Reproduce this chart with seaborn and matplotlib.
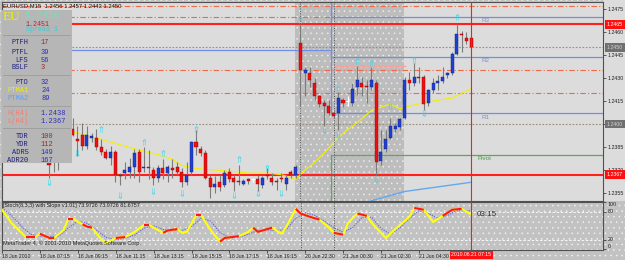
import numpy as np
import matplotlib
matplotlib.use("Agg")
import matplotlib.pyplot as plt
import matplotlib.transforms as mtransforms
from matplotlib.patches import Rectangle
import seaborn as sns

plt.rcParams['font.family'] = ['Liberation Sans', 'DejaVu Sans']
plt.rcParams['hatch.linewidth'] = 0.35

# ===============================
# Data (EURUSD M15)
# ===============================
bar_open = [1.2380, 1.2377, 1.2383, 1.2378, 1.2390, 1.2397, 1.2390, 1.2393, 1.2386, 1.2391,
            1.2391, 1.2385, 1.2382, 1.2378, 1.2382, 1.2367, 1.2368, 1.2369, 1.2372, 1.2382,
            1.2371, 1.2372, 1.2370, 1.2365, 1.2371, 1.2368, 1.2371, 1.2372, 1.2369, 1.2362,
            1.2369, 1.2388, 1.2384, 1.2381, 1.2365, 1.2359, 1.2362, 1.2360, 1.2369, 1.2365,
            1.2363, 1.2361, 1.2364, 1.2364, 1.2364, 1.2360, 1.2367, 1.2365, 1.2363, 1.2365,
            1.2361, 1.2369, 1.2367, 1.2453, 1.2433, 1.2433, 1.2427, 1.2418, 1.2414, 1.2412,
            1.2407, 1.2407, 1.2416, 1.2415, 1.2414, 1.2424, 1.2427, 1.2425, 1.2424, 1.2427,
            1.2376, 1.2384, 1.2391, 1.2397, 1.2398, 1.2404, 1.2429, 1.2427, 1.2431, 1.2431,
            1.2414, 1.2422, 1.2427, 1.2428, 1.2432, 1.2433, 1.2446, 1.2459, 1.2456, 1.2456]
bar_high = [1.2384, 1.2386, 1.2390, 1.2393, 1.2399, 1.2404, 1.2399, 1.2401, 1.2399, 1.2394,
            1.2397, 1.2390, 1.2384, 1.2386, 1.2383, 1.2368, 1.2375, 1.2378, 1.2384, 1.2384,
            1.2385, 1.2383, 1.2372, 1.2373, 1.2377, 1.2373, 1.2377, 1.2375, 1.2371, 1.2375,
            1.2389, 1.2396, 1.2386, 1.2383, 1.2367, 1.2366, 1.2367, 1.2370, 1.2371, 1.2367,
            1.2373, 1.2364, 1.2365, 1.2365, 1.2367, 1.2366, 1.2371, 1.2368, 1.2365, 1.2368,
            1.2367, 1.2370, 1.2373, 1.2465, 1.2437, 1.2437, 1.2430, 1.2419, 1.2416, 1.2416,
            1.2409, 1.2421, 1.2417, 1.2418, 1.2427, 1.2438, 1.2431, 1.2429, 1.2437, 1.2429,
            1.2396, 1.2396, 1.2404, 1.2401, 1.2404, 1.2431, 1.2434, 1.2440, 1.2437, 1.2432,
            1.2423, 1.2430, 1.2432, 1.2437, 1.2434, 1.2447, 1.2465, 1.2461, 1.2460, 1.2457]
bar_low = [1.2365, 1.2369, 1.2370, 1.2375, 1.2383, 1.2392, 1.2379, 1.2383, 1.2384, 1.2388,
           1.2383, 1.2380, 1.2377, 1.2373, 1.2362, 1.2360, 1.2364, 1.2365, 1.2365, 1.2362,
           1.2369, 1.2364, 1.2360, 1.2362, 1.2364, 1.2362, 1.2365, 1.2367, 1.2359, 1.2360,
           1.2367, 1.2380, 1.2379, 1.2364, 1.2352, 1.2355, 1.2356, 1.2359, 1.2362, 1.2356,
           1.2360, 1.2360, 1.2361, 1.2362, 1.2356, 1.2358, 1.2364, 1.2360, 1.2357, 1.2362,
           1.2357, 1.2365, 1.2365, 1.2412, 1.2418, 1.2424, 1.2416, 1.2411, 1.2399, 1.2406,
           1.2404, 1.2396, 1.2411, 1.2412, 1.2412, 1.2419, 1.2418, 1.2414, 1.2422, 1.2367,
           1.2373, 1.2382, 1.2390, 1.2395, 1.2396, 1.2403, 1.2422, 1.2425, 1.2427, 1.2409,
           1.2412, 1.2420, 1.2422, 1.2427, 1.2430, 1.2432, 1.2445, 1.2447, 1.2452, 1.2450]
bar_close = [1.2373, 1.2383, 1.2378, 1.2390, 1.2396, 1.2393, 1.2389, 1.2386, 1.2393, 1.2392,
             1.2385, 1.2382, 1.2378, 1.2382, 1.2367, 1.2366, 1.2370, 1.2372, 1.2381, 1.2369,
             1.2372, 1.2371, 1.2365, 1.2371, 1.2368, 1.2372, 1.2370, 1.2369, 1.2362, 1.2367,
             1.2388, 1.2385, 1.2381, 1.2365, 1.2359, 1.2361, 1.2359, 1.2368, 1.2364, 1.2362,
             1.2362, 1.2363, 1.2363, 1.2364, 1.2361, 1.2365, 1.2366, 1.2362, 1.2362, 1.2364,
             1.2365, 1.2367, 1.2372, 1.2435, 1.2435, 1.2429, 1.2418, 1.2413, 1.2412, 1.2407,
             1.2405, 1.2417, 1.2414, 1.2415, 1.2423, 1.2429, 1.2424, 1.2424, 1.2429, 1.2375,
             1.2382, 1.2390, 1.2399, 1.2399, 1.2403, 1.2429, 1.2427, 1.2431, 1.2430, 1.2413,
             1.2422, 1.2427, 1.2428, 1.2431, 1.2433, 1.2446, 1.2459, 1.2458, 1.2454, 1.2450]

# moving averages (PTMA1 yellow, PTMA2 light blue)
ma1_idx = [5, 11, 19, 23, 26, 28, 31, 35, 39, 42, 46, 49, 52, 54, 56, 58, 60, 62, 65, 68, 72, 74, 79, 85, 89]
ma1_val = [1.2395, 1.2390, 1.2383, 1.2380, 1.2377, 1.2373, 1.2371, 1.2370, 1.2369, 1.2368, 1.2368, 1.2367,
           1.2364, 1.2370, 1.2375, 1.2381, 1.2388, 1.2394, 1.2401, 1.2409, 1.2413, 1.2410, 1.2414,
           1.2417, 1.2423]
ma2_idx = [68, 75, 89]
ma2_val = [1.2350, 1.2356, 1.2362]

# fractal arrows
up_idx = [11, 20, 24, 31, 40, 46, 53, 61, 65, 68, 72, 77, 86]
up_price = [1.2397, 1.2388, 1.2381, 1.2397, 1.2377, 1.2371, 1.2468, 1.2423, 1.2441, 1.2440, 1.2412, 1.2442, 1.2470]
dn_idx = [0, 6, 15, 22, 28, 39, 44, 49, 58, 61, 69, 79]
dn_price = [1.2362, 1.2381, 1.2354, 1.2356, 1.2355, 1.2354, 1.2355, 1.2355, 1.2396, 1.2393, 1.2364, 1.2407]

# pivot levels: previous day -> new day (day starts after bar 59)
pivot_names = ['R3', 'R2', 'R1', 'Pivot']
pivot_prev = [1.2500, 1.2490, 1.2448, 1.2340]
pivot_new = [1.2470, 1.2444, 1.2407, 1.2380]
h4_high, h4_low = 1.2438, 1.2367
day_high = 1.2465
dashdot_levels = [1.2477, 1.2435, 1.2420]
dotted_levels = [1.2450, 1.2400]

# Stoch(8,3,3) main and signal
k_idx = [-10, -8, -5, -3, -2, 0, 1, 3, 4, 5, 7, 8, 9, 11, 12, 14, 16, 18, 20, 21, 22, 24, 25, 27, 28, 29,
         31, 32, 34, 36, 37, 40, 42, 43, 44, 46, 47, 49, 50, 52, 53, 55, 57, 59, 60, 62, 63, 65, 67, 68,
         71, 73, 76, 77, 79, 81, 83, 85, 87, 89]
k_val = [84, 56, 26, 26, 33, 24, 24, 41, 65, 65, 53, 48, 46, 20, 13, 24, 26, 37, 52, 52, 46, 35, 40, 43, 35, 37,
         73, 73, 41, 16, 24, 28, 37, 46, 37, 43, 46, 33, 48, 86, 76, 69, 63, 46, 35, 31, 56, 76, 71, 56,
         24, 43, 69, 88, 84, 58, 71, 84, 86, 74]
red_spans = [(-5, -3), (-2, 1), (4, 5), (7, 9), (13, 16), (20, 21), (24, 27), (31, 32), (36, 40),
             (43, 47), (52, 57), (60, 62), (65, 67), (77, 79), (83, 87)]
d_idx = [-10, -8, -6, -4, -2, 0, 2, 4, 6, 8, 10, 12, 14, 16, 18, 20, 22, 24, 26, 28, 30, 32, 34, 36, 38,
         40, 42, 44, 46, 48, 50, 52, 54, 56, 58, 60, 62, 64, 66, 68, 70, 72, 74, 76, 78, 80, 82, 84, 86, 89]
d_val = [88, 72, 50, 32, 28, 27, 28, 45, 60, 55, 40, 25, 20, 24, 30, 45, 50, 42, 40, 40, 48, 66, 60, 36, 24,
         26, 32, 40, 41, 40, 42, 66, 78, 72, 60, 46, 36, 46, 68, 68, 44, 32, 46, 66, 82, 76, 66, 72, 82, 82]

time_ticks = [-10, -2, 6, 14, 22, 30, 38, 46, 54, 62, 70, 78]
time_labels = ['18 Jun 2010', '18 Jun 07:15', '18 Jun 09:15', '18 Jun 11:15', '18 Jun 13:15',
               '18 Jun 15:15', '18 Jun 17:15', '18 Jun 19:15', '20 Jun 22:30', '21 Jun 00:30',
               '21 Jun 02:30', '21 Jun 04:30']
price_ticks = [1.2355, 1.2370, 1.2385, 1.2400, 1.2415, 1.2430, 1.2445, 1.2460, 1.2475]

# ===============================
# Layout (pixel based, 625x260)
# ===============================
W, H = 625, 260
BAR0, STEP = 49, 4.742   # pixel x of bar 0 and spacing


def px_rect(x0, y0, x1, y1):
    return [x0 / W, 1 - y1 / H, (x1 - x0) / W, (y1 - y0) / H]


def px_to_idx(x):
    return (x - BAR0) / STEP


fig = plt.figure(figsize=(W / 100, H / 100), dpi=100)
fig.patch.set_facecolor('#c2c2c2')
fig.add_artist(Rectangle((0, 0), 1, 1, transform=fig.transFigure, fc='#c2c2c2', ec='#f4f4f4',
                         hatch='...', lw=0, zorder=-3))
fig.add_artist(Rectangle((603 / W, 1 - 201 / H), 22 / W, 201 / H, transform=fig.transFigure,
                         fc='#dcdcdc', ec='none', zorder=-2))

ax = fig.add_axes(px_rect(2, 2, 603, 201))
ax2 = fig.add_axes(px_rect(2, 202, 603, 249.5))
xlo, xhi = px_to_idx(2), px_to_idx(603)

ax.set_facecolor('#dcdcdc')
ax.set_xlim(xlo, xhi)
ax.set_ylim(1.23498, 1.24796)

# session shading
ax.add_patch(Rectangle((px_to_idx(295), 1.2300), px_to_idx(404) - px_to_idx(295), 0.03,
                       fc='#bdbdbd', ec='#f0f0f0', hatch='...', lw=0, zorder=0.5))

# horizontal levels
for lv in dashdot_levels:
    ax.axhline(lv, color='#f06a4a', lw=0.8, ls=(0, (5, 2, 1, 2)), zorder=1)
ax.plot([xlo, 59.5], [1.2470, 1.2470], color='#f06a4a', lw=0.8, ls=(0, (5, 2, 1, 2)), zorder=1)
for lv in dotted_levels:
    ax.axhline(lv, color='#9a8e7c', lw=0.8, ls=(0, (1.5, 1.5)), zorder=1)
ax.plot([60, 75], [h4_high, h4_high], color='#f4a4a0', lw=1.0, zorder=1)
for name, prev, new in zip(pivot_names, pivot_prev, pivot_new):
    col = '#5aa85a' if name == 'Pivot' else '#6f8ee8'
    ax.plot([xlo, 59.5, xhi], [prev, new, new], drawstyle='steps-post', color=col, lw=0.9, zorder=1.2)
    ax.text(px_to_idx(482) if name != 'Pivot' else px_to_idx(478), new - 0.00008, name,
            color='#8090c8' if name != 'Pivot' else '#40a040', fontsize=4.5, va='top', ha='left', zorder=2)
ax.axhline(day_high, color='#ff2020', lw=1.5, zorder=1.5)
ax.axhline(h4_low, color='#ff2020', lw=1.5, zorder=1.5)

# moving averages
sns.lineplot(x=ma1_idx, y=ma1_val, ax=ax, color='#f4f000', lw=0.8, zorder=2)
sns.lineplot(x=ma2_idx, y=ma2_val, ax=ax, color='#64a8f0', lw=1.0, zorder=2)

# candles
idx = np.arange(len(bar_open))
o, hi, lo, c = map(np.array, (bar_open, bar_high, bar_low, bar_close))
doji = np.isclose(o, c)
bull = (c > o) & ~doji
bear = (c < o) & ~doji
ax.vlines(idx[~doji], lo[~doji], hi[~doji], color='#7c7c7c', lw=0.8, zorder=3)
ax.bar(idx[bull], (c - o)[bull], bottom=o[bull], width=0.64, color='#2040d0',
       edgecolor='#102080', lw=0.3, zorder=4)
ax.bar(idx[bear], (o - c)[bear], bottom=c[bear], width=0.64, color='#ee1010',
       edgecolor='#a00000', lw=0.3, zorder=4)
ax.vlines(idx[doji], lo[doji], hi[doji], color='white', lw=0.8, zorder=4)
ax.hlines(o[doji], idx[doji] - 0.35, idx[doji] + 0.35, color='white', lw=0.8, zorder=4)

# fractal arrows
sns.scatterplot(x=up_idx, y=up_price, ax=ax, marker=r'$\Uparrow$', s=22, color='#38d8ec',
                linewidth=0, zorder=5)
sns.scatterplot(x=dn_idx, y=dn_price, ax=ax, marker=r'$\Downarrow$', s=22, color='#38d8ec',
                linewidth=0, zorder=5)

# separators and crosshair
for a in (ax, ax2):
    for sep in (53, 60):
        a.axvline(sep, color='#555555', lw=0.7, ls=(0, (1, 1.5)), zorder=2.5)
    a.axvline(89, color='#ff1a1a', lw=0.8, zorder=6)
    for sp in a.spines.values():
        sp.set_color('#505050')
        sp.set_linewidth(0.8)

ax.yaxis.tick_right()
ax.set_yticks(price_ticks)
ax.set_yticklabels([f'{p:.4f}' for p in price_ticks])
ax.tick_params(axis='y', length=2, width=0.5, pad=1.5, labelsize=3.8, colors='#202020')
ax.tick_params(axis='x', bottom=False, labelbottom=False)
ax.set_xlabel('')
ax.set_ylabel('')

trans = mtransforms.blended_transform_factory(ax.transAxes, ax.transData)
for lv, fc, tc in [(day_high, '#ff1010', 'white'), (h4_low, '#ff1010', 'white'),
                   (1.2450, '#707070', '#d0d0d0'), (1.2400, '#707070', '#d0d0d0')]:
    ax.text(1.006, lv, f'{lv:.4f}', transform=trans, fontsize=3.8, color=tc, ha='left', va='center',
            clip_on=False, zorder=7, bbox=dict(boxstyle='square,pad=0.35', fc=fc, ec='none'))

# ===============================
# Stochastic sub window
# ===============================
ax2.set_facecolor('none')
ax2.set_xlim(xlo, xhi)
ax2.set_ylim(-0.5, 100.5)
for lv in (20, 80):
    ax2.axhline(lv, color='white', lw=0.6, ls=(0, (3, 2)), zorder=1)
ax2.plot(d_idx, d_val, color='#6c6ad8', lw=0.8, ls=(0, (1.2, 1.0)), zorder=2)
sns.lineplot(x=k_idx, y=k_val, ax=ax2, color='#ffff10', lw=1.5, zorder=3)
k_arr, kv_arr = np.array(k_idx), np.array(k_val)
for a0, a1 in red_spans:
    m = (k_arr >= a0) & (k_arr <= a1)
    ax2.plot(k_arr[m], kv_arr[m], color='#ff1818', lw=1.5, zorder=4, solid_capstyle='butt')

ax2.yaxis.tick_right()
ax2.set_yticks([0, 20, 80, 100])
ax2.set_yticklabels(['0', '20', '80', '100'])
for lab, va in zip(ax2.get_yticklabels(), ['bottom', 'center', 'center', 'top']):
    lab.set_va(va)
ax2.tick_params(axis='y', length=2, width=0.5, pad=1.5, labelsize=3.8, colors='#202020')
ax2.set_xticks(time_ticks)
ax2.set_xticklabels(time_labels, ha='left')
ax2.tick_params(axis='x', length=2, width=0.5, pad=1.2, labelsize=3.7, colors='#202020')
ax2.set_xlabel('')
ax2.set_ylabel('')

trans2 = mtransforms.blended_transform_factory(ax2.transData, ax2.transAxes)
ax2.text(89, -0.115, '2010.06.21 07:15', transform=trans2, fontsize=3.7, color='white',
         ha='center', va='center', clip_on=False, zorder=8,
         bbox=dict(boxstyle='square,pad=0.3', fc='#ff1010', ec='none'))

# ===============================
# Overlay: info panel and captions (pixel coords)
# ===============================
ov = fig.add_axes([0, 0, 1, 1], zorder=10)
ov.set_xlim(0, W)
ov.set_ylim(H, 0)
ov.axis('off')
ov.patch.set_alpha(0)

ov.text(3, 6, 'EURUSD,M15  1.2456 1.2457 1.2443 1.2450', fontsize=4.2, color='#101010', va='center')
ov.text(3, 205.5, '[Stoch(8,3,3) with Slope v1.01] 73.9726 73.9726 81.6757', fontsize=3.9,
        color='#202020', va='center')
ov.text(3, 243.5, 'MetaTrader 4, \u00a9 2001-2010 MetaQuotes Software Corp.', fontsize=4.0,
        color='#202020', va='center')
ov.text(477, 214, '03:15', fontsize=5.8, color='#303030', va='center')

ov.add_patch(Rectangle((1.5, 10), 70, 153, fc='#b6b6b6', ec='none'))
for yy in (35, 75, 106, 128):
    ov.plot([3, 70], [yy, yy], color='#9c9c9c', lw=0.6)

mono = ['Liberation Mono', 'DejaVu Sans Mono']
serif = ['Liberation Serif', 'DejaVu Serif']
ov.text(3, 16.5, 'EU', family=serif, fontsize=9.5, color='#f0f000', va='center')
ov.text(24, 15.5, '1.2450', family=mono, fontsize=7.2, color='#78e0b8', va='center')
ov.text(26, 24.2, '1.2451', family=mono, fontsize=4.8, color='#a02828', va='center')
ov.text(26, 29.8, 'Spread 1', family=mono, fontsize=4.8, color='#30d0d8', va='center')

panel_rows = [
    ('PTFH', '17', 43, '#202080', '#a02828'),
    ('PTFL', '39', 52, '#202080', '#2c2cc0'),
    ('LFS', '56', 60, '#202080', '#2c2cc0'),
    ('BSLF', '3', 67.5, '#202080', '#a02828'),
    ('PTO', '32', 82, '#202080', '#2c2cc0'),
    ('PTMA1', '24', 90, '#f0f000', '#2c2cc0'),
    ('PTMA2', '89', 98, '#58a0ff', '#2c2cc0'),
    ('H(H4)', '1.2438', 113.5, '#f08070', '#2c2cc0'),
    ('L(H4)', '1.2367', 121.5, '#f08070', '#2c2cc0'),
    ('TDR', '100', 136.5, '#202080', '#a02828'),
    ('YDR', '112', 144.5, '#202080', '#a02828'),
    ('ADR5', '149', 152, '#202080', '#2c2cc0'),
    ('ADR20', '167', 160, '#202080', '#2c2cc0'),
]
for lab, val, yy, lc, vc in panel_rows:
    ov.text(28.5, yy, lab, family=mono, fontsize=5, color=lc, ha='right', va='center')
    ov.text(41, yy, val, family=mono, fontsize=5, color=vc, ha='left', va='center')

fig.savefig('out.png', dpi=100, facecolor=fig.get_facecolor())
